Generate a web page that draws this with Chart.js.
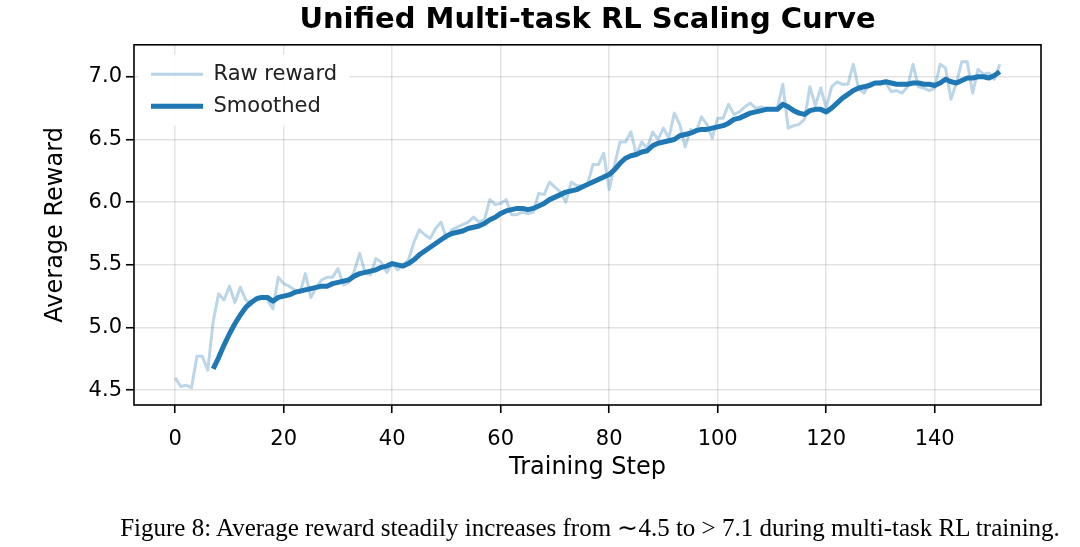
<!DOCTYPE html>
<html>
<head>
<meta charset="utf-8">
<script src="https://cdn.jsdelivr.net/npm/chart.js@4.4.0/dist/chart.umd.min.js"></script>
<style>
html,body{margin:0;padding:0;background:#fff;}
#wrap{position:relative;width:1080px;height:547px;overflow:hidden;}
#c{position:absolute;left:0;top:0;width:1080px;height:547px;}
#caption{position:absolute;left:50px;top:512px;width:1080px;text-align:center;font-family:'Liberation Serif','Times New Roman',serif;font-size:25px;color:#000;line-height:32px;white-space:nowrap;}
</style>
</head>
<body>
<div id="wrap">
<canvas id="c" width="1080" height="547"></canvas>
<div id="caption">Figure 8: Average reward steadily increases from ∼4.5 to &gt; 7.1 during multi-task RL training.</div>
</div>
<script>
// ---- data ----
const chartTitle = 'Unified Multi-task RL Scaling Curve';
const xAxisTitle = 'Training Step';
const yAxisTitle = 'Average Reward';
const seriesNames = ['Raw reward', 'Smoothed'];

// raw reward, one value per training step starting at step 0
const rawReward = [
  4.60,4.53,4.54,4.52,4.77,4.77,4.66,5.05,5.27,5.22,
  5.33,5.20,5.32,5.22,5.18,5.24,5.25,5.22,5.15,5.40,
  5.35,5.33,5.30,5.28,5.43,5.24,5.32,5.38,5.40,5.40,
  5.47,5.34,5.36,5.45,5.59,5.44,5.42,5.55,5.52,5.44,
  5.51,5.46,5.50,5.54,5.68,5.78,5.74,5.71,5.79,5.84,
  5.71,5.78,5.80,5.82,5.84,5.88,5.84,5.86,6.02,5.98,
  5.99,6.02,5.90,5.90,5.92,5.91,5.92,6.07,6.06,6.16,
  6.12,6.08,6.00,6.16,6.13,6.13,6.14,6.30,6.30,6.39,
  6.10,6.30,6.48,6.48,6.56,6.38,6.48,6.43,6.56,6.50,
  6.59,6.51,6.71,6.62,6.44,6.58,6.56,6.68,6.62,6.51,
  6.67,6.67,6.78,6.70,6.72,6.76,6.79,6.75,6.76,6.75,
  6.74,6.75,6.94,6.59,6.61,6.62,6.66,6.92,6.77,6.91,
  6.75,6.92,6.96,6.94,6.94,7.10,6.90,6.87,6.95,6.95,
  6.96,6.95,6.88,6.89,6.87,6.92,7.10,6.92,6.91,6.89,
  6.91,7.10,7.07,6.82,6.95,7.12,7.12,6.87,7.06,7.02,
  7.03,6.98,7.10
];

// smoothed curve, first value belongs to step 7
const smoothedStartStep = 7;
const smoothedReward = [
  4.67,4.76,4.86,4.95,5.03,5.10,5.16,5.20,5.23,5.24,
  5.24,5.21,5.24,5.25,5.26,5.28,5.29,5.30,5.31,5.32,
  5.33,5.33,5.35,5.36,5.37,5.38,5.41,5.43,5.44,5.45,
  5.46,5.48,5.49,5.51,5.50,5.49,5.51,5.54,5.58,5.61,
  5.64,5.67,5.70,5.73,5.75,5.76,5.77,5.79,5.80,5.81,
  5.83,5.86,5.88,5.91,5.93,5.94,5.95,5.95,5.94,5.95,
  5.97,5.99,6.02,6.04,6.06,6.08,6.09,6.10,6.12,6.14,
  6.16,6.18,6.20,6.22,6.26,6.31,6.35,6.37,6.38,6.40,
  6.41,6.45,6.47,6.48,6.49,6.50,6.53,6.54,6.55,6.57,
  6.58,6.58,6.59,6.60,6.61,6.63,6.66,6.67,6.69,6.71,
  6.72,6.73,6.74,6.74,6.74,6.78,6.76,6.73,6.71,6.70,
  6.73,6.74,6.74,6.72,6.75,6.79,6.83,6.86,6.89,6.91,
  6.92,6.93,6.95,6.95,6.96,6.95,6.94,6.94,6.94,6.95,
  6.95,6.94,6.94,6.93,6.95,6.98,6.96,6.95,6.97,6.99,
  6.99,7.00,7.00,6.99,7.01,7.04
];

const xTickValues = [0, 20, 40, 60, 80, 100, 120, 140];
const yTickValues = [4.5, 5.0, 5.5, 6.0, 6.5, 7.0];

// ---- chart ----
const rawPoints = rawReward.map((v, i) => ({ x: i, y: v }));
const smoothPoints = smoothedReward.map((v, i) => ({ x: i + smoothedStartStep, y: v }));

const BLUE = '#1f77b4';
const BLUE_LIGHT = 'rgba(31,119,180,0.3)';
const FONT = "'DejaVu Sans', 'Liberation Sans', sans-serif";

const legendPlace = {
  id: 'legendPlace',
  afterLayout(chart) {
    const L = chart.legend, ca = chart.chartArea;
    if (!L) return;
    L.left = ca.left + 6;
    L.top = ca.top + 8;
    L.right = ca.right;
    L.bottom = ca.bottom;
  },
  beforeDatasetsDraw(chart) {
    const L = chart.legend;
    if (!L || !L.legendHitBoxes) return;
    const ctx = chart.ctx;
    const pad = L.options.labels.padding;
    let maxW = 0, totH = 0;
    L.legendHitBoxes.forEach(b => { maxW = Math.max(maxW, b.width); totH += b.height; });
    totH += pad * (L.legendHitBoxes.length - 1);
    ctx.save();
    ctx.fillStyle = 'rgba(255,255,255,0.9)';
    ctx.fillRect(L.left + pad - 12, L.top + pad - 9, maxW + 24, totH + 18);
    ctx.restore();
    L.draw();
  }
};

const frame = {
  id: 'frame',
  afterDatasetsDraw(chart) {
    const ca = chart.chartArea, ctx = chart.ctx;
    ctx.save();
    ctx.strokeStyle = '#000';
    ctx.lineWidth = 1.6;
    ctx.strokeRect(ca.left, ca.top, ca.right - ca.left, ca.bottom - ca.top);
    ctx.restore();
  }
};

const gridOpts = {
  display: true,
  color: 'rgba(0,0,0,0.11)',
  lineWidth: 1.5,
  drawTicks: true,
  tickLength: 8,
  tickColor: '#000',
  tickWidth: 1.6
};

new Chart(document.getElementById('c'), {
  type: 'line',
  data: {
    datasets: [
      {
        label: seriesNames[0],
        data: rawPoints,
        borderColor: BLUE_LIGHT,
        backgroundColor: BLUE_LIGHT,
        borderWidth: 3,
        pointRadius: 0,
        pointHoverRadius: 0,
        pointBorderWidth: 3,
        pointBorderColor: BLUE_LIGHT,
        pointBackgroundColor: BLUE_LIGHT,
        borderJoinStyle: 'round',
        tension: 0,
        fill: false,
        order: 2
      },
      {
        label: seriesNames[1],
        data: smoothPoints,
        borderColor: BLUE,
        backgroundColor: BLUE,
        borderWidth: 5,
        pointRadius: 0,
        pointHoverRadius: 0,
        pointBorderWidth: 5,
        pointBorderColor: BLUE,
        pointBackgroundColor: BLUE,
        borderJoinStyle: 'round',
        tension: 0,
        fill: false,
        order: 1
      }
    ]
  },
  options: {
    responsive: false,
    animation: false,
    devicePixelRatio: 1,
    layout: { padding: { left: 0, right: 39, top: 0, bottom: 57 } },
    plugins: {
      title: {
        display: true,
        text: chartTitle,
        fullSize: false,
        color: '#000',
        font: { family: FONT, size: 29, weight: 'bold' },
        padding: { top: 3, bottom: 7 }
      },
      legend: {
        position: 'chartArea',
        align: 'start',
        labels: {
          usePointStyle: true,
          pointStyle: 'line',
          pointStyleWidth: 52,
          padding: 11,
          color: '#222',
          font: { family: FONT, size: 21 },
          sort: (a, b) => a.datasetIndex - b.datasetIndex
        }
      },
      tooltip: { enabled: false }
    },
    scales: {
      x: {
        type: 'linear',
        min: -7.6,
        max: 159.6,
        afterFit: s => { s.height = 85; },
        afterBuildTicks: ax => { ax.ticks = xTickValues.map(v => ({ value: v })); },
        grid: gridOpts,
        border: { display: false },
        ticks: {
          color: '#000',
          font: { family: FONT, size: 21 },
          padding: 14,
          maxRotation: 0,
          autoSkip: false,
          callback: v => String(v)
        },
        title: {
          display: true,
          text: xAxisTitle,
          color: '#000',
          font: { family: FONT, size: 24 },
          padding: { top: 0, bottom: 8 }
        }
      },
      y: {
        type: 'linear',
        min: 4.382,
        max: 7.255,
        afterFit: s => { s.width = 134; },
        afterBuildTicks: ax => { ax.ticks = yTickValues.map(v => ({ value: v })); },
        grid: gridOpts,
        border: { display: false },
        ticks: {
          color: '#000',
          font: { family: FONT, size: 21 },
          padding: 4,
          autoSkip: false,
          callback: v => Number(v).toFixed(1)
        },
        title: {
          display: true,
          text: yAxisTitle,
          color: '#000',
          font: { family: FONT, size: 24 },
          padding: { top: 41, bottom: 0 }
        }
      }
    }
  },
  plugins: [legendPlace, frame]
});
</script>
</body>
</html>
